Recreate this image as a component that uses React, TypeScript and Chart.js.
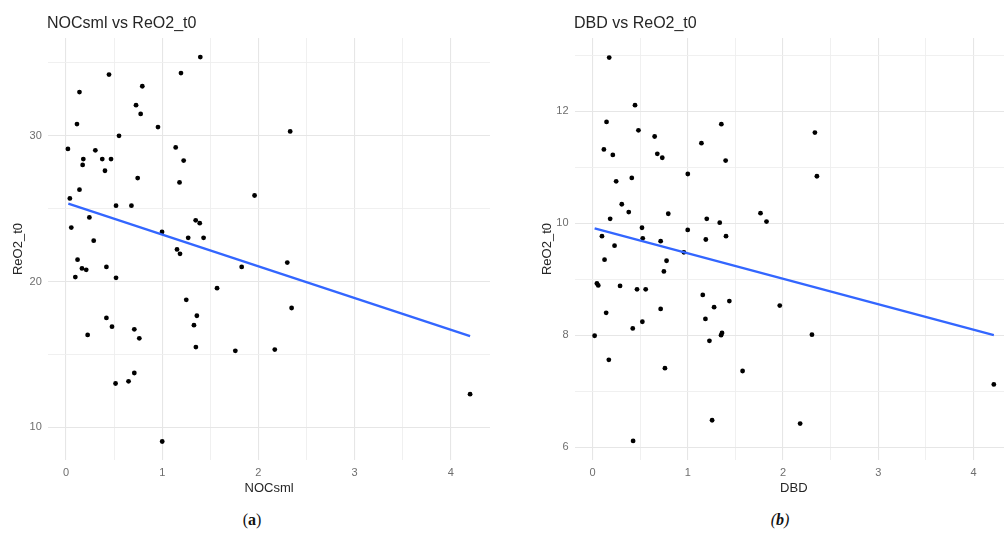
import React, { useEffect, useRef } from "react";
import { Chart, registerables } from "chart.js";

Chart.register(...registerables);

// ---------- data ----------
const nocX = [
  0.02, 0.114, 0.14, 0.447, 0.728, 0.776, 0.793, 0.956, 1.195, 1.396,
  0.551, 0.305, 0.18, 0.173, 0.377, 0.468, 0.405, 0.745, 1.14, 1.223,
  1.18, 0.04, 0.14, 0.52, 0.68, 0.243, 0.055, 0.288, 0.998, 1.348,
  1.39, 1.27, 1.43, 1.154, 1.185, 0.12, 0.42, 0.166, 0.21, 1.826,
  1.96, 0.097, 0.52, 1.57, 1.25, 1.36, 1.33, 1.35, 1.76, 0.42,
  0.478, 0.225, 0.71, 0.762, 0.515, 0.65, 0.71, 1.0, 2.33, 2.3,
  2.345, 2.17, 4.2,
];
const nocY = [
  29.1, 30.8, 33.0, 34.2, 32.1, 31.5, 33.4, 30.6, 34.3, 35.4,
  30.0, 29.0, 28.4, 28.0, 28.4, 28.4, 27.6, 27.1, 29.2, 28.3,
  26.8, 25.7, 26.3, 25.2, 25.2, 24.4, 23.7, 22.8, 23.4, 24.2,
  24.0, 23.0, 23.0, 22.2, 21.9, 21.5, 21.0, 20.9, 20.8, 21.0,
  25.9, 20.3, 20.25, 19.54, 18.74, 17.65, 17.0, 15.5, 15.24, 17.5,
  16.9, 16.33, 16.72, 16.1, 13.0, 13.15, 13.72, 9.02, 30.3, 21.3,
  18.18, 15.33, 12.27,
];
const nocFitX = [0.024, 4.2];
const nocFitY = [25.34, 16.25];

const dbdX = [
  0.176, 0.447, 0.148, 0.483, 0.653, 1.353, 1.144, 0.12, 0.214, 0.681,
  0.733, 1.398, 1.001, 0.413, 0.249, 0.308, 0.381, 0.796, 0.186, 1.2,
  1.336, 1.764, 1.827, 0.1, 0.52, 0.528, 1.0, 1.19, 1.402, 0.716,
  0.232, 0.96, 0.127, 0.778, 0.75, 0.047, 0.061, 0.29, 0.468, 0.559,
  1.158, 1.437, 1.277, 0.716, 0.144, 1.186, 0.524, 0.423, 0.023, 1.36,
  1.35, 1.228, 0.172, 0.761, 1.576, 1.256, 0.427, 2.335, 2.356, 1.966,
  2.304, 2.18, 4.213,
];
const dbdY = [
  12.96, 12.11, 11.81, 11.66, 11.55, 11.77, 11.43, 11.32, 11.22, 11.24,
  11.17, 11.12, 10.88, 10.81, 10.75, 10.34, 10.2, 10.17, 10.08, 10.08,
  10.01, 10.18, 10.03, 9.77, 9.92, 9.73, 9.88, 9.71, 9.77, 9.68,
  9.6, 9.48, 9.35, 9.33, 9.14, 8.925, 8.89, 8.88, 8.82, 8.82,
  8.72, 8.61, 8.5, 8.47, 8.4, 8.29, 8.24, 8.12, 7.99, 8.04,
  8.0, 7.9, 7.56, 7.41, 7.36, 6.48, 6.11, 11.62, 10.84, 8.53,
  8.01, 6.42, 7.12,
];
const dbdFitX = [0.023, 4.213];
const dbdFitY = [9.91, 8.0];

const xMajor = [0, 1, 2, 3, 4];
const xMinor = [0.5, 1.5, 2.5, 3.5];
const nocYMajor = [10, 20, 30];
const nocYMinor = [15, 25, 35];
const dbdYMajor = [6, 8, 10, 12];
const dbdYMinor = [7, 9, 11, 13];

const FONT = "'Liberation Sans', Arial, Helvetica, sans-serif";
const TICK_COLOR = "#6e6e6e";
const TEXT_COLOR = "#262626";

type PanelProps = {
  xs: number[];
  ys: number[];
  fitX: number[];
  fitY: number[];
  xMin: number;
  xMax: number;
  yMin: number;
  yMax: number;
  yMaj: number[];
  yMin2: number[];
  xTitle: string;
  yTitle: string;
  left: number;
  width: number;
  yAxisWidth: number;
  yTitlePad: number;
  padRight: number;
};

function Panel(p: PanelProps) {
  const ref = useRef<HTMLCanvasElement | null>(null);
  useEffect(() => {
    if (!ref.current) return;
    const pts = p.xs.map((x, i) => ({ x, y: p.ys[i] }));
    const fit = p.fitX.map((x, i) => ({ x, y: p.fitY[i] }));
    const xTicks = [...p.xs.length ? xMajor : [], ...xMinor].sort((a, b) => a - b);
    const yTicks = [...p.yMaj, ...p.yMin2].sort((a, b) => a - b);
    const isMajX = (v: number) => xMajor.indexOf(v) >= 0;
    const isMajY = (v: number) => p.yMaj.indexOf(v) >= 0;
    const chart = new Chart(ref.current, {
      type: "scatter",
      data: {
        datasets: [
          {
            type: "scatter",
            data: pts,
            backgroundColor: "#000000",
            borderColor: "#000000",
            borderWidth: 0,
            pointRadius: 2.4,
            pointHoverRadius: 2.4,
            order: 2,
          },
          {
            type: "line",
            data: fit,
            borderColor: "#3366FF",
            borderWidth: 2.3,
            pointRadius: 0,
            showLine: true,
            fill: false,
            order: 1,
          } as any,
        ],
      },
      options: {
        animation: false,
        responsive: false,
        devicePixelRatio: 1,
        events: [],
        layout: { padding: { top: 38, right: p.padRight, left: 0, bottom: 0 } },
        plugins: {
          legend: { display: false },
          title: { display: false },
          tooltip: { enabled: false },
        },
        scales: {
          x: {
            type: "linear",
            min: p.xMin,
            max: p.xMax,
            afterBuildTicks: (s: any) => {
              s.ticks = xTicks.map((v) => ({ value: v }));
            },
            afterFit: (s: any) => {
              s.height = 40;
            },
            border: { display: false },
            grid: {
              drawTicks: false,
              color: (c: any) => (isMajX(c.tick?.value) ? "#e6e6e6" : "#eeeeee"),
              lineWidth: (c: any) => (isMajX(c.tick?.value) ? 1.1 : 0.9),
            },
            ticks: {
              autoSkip: false,
              maxRotation: 0,
              padding: 6,
              color: TICK_COLOR,
              font: { family: FONT, size: 11 },
              callback: (v: any) => (isMajX(Number(v)) ? String(v) : ""),
            },
            title: {
              display: true,
              text: p.xTitle,
              color: TEXT_COLOR,
              font: { family: FONT, size: 13 },
              padding: { top: 0, bottom: 4 },
            },
          },
          y: {
            type: "linear",
            min: p.yMin,
            max: p.yMax,
            afterBuildTicks: (s: any) => {
              s.ticks = yTicks.map((v) => ({ value: v }));
            },
            afterFit: (s: any) => {
              s.width = p.yAxisWidth;
            },
            border: { display: false },
            grid: {
              drawTicks: false,
              color: (c: any) => (isMajY(c.tick?.value) ? "#e6e6e6" : "#eeeeee"),
              lineWidth: (c: any) => (isMajY(c.tick?.value) ? 1.1 : 0.9),
            },
            ticks: {
              autoSkip: false,
              padding: 6.5,
              color: TICK_COLOR,
              font: { family: FONT, size: 11 },
              callback: (v: any) => (isMajY(Number(v)) ? String(v) : ""),
            },
            title: {
              display: true,
              text: p.yTitle,
              color: TEXT_COLOR,
              font: { family: FONT, size: 13 },
              padding: { top: p.yTitlePad, bottom: 0 },
            },
          },
        },
      },
    } as any);
    return () => chart.destroy();
  }, []);
  return (
    <canvas
      ref={ref}
      width={p.width}
      height={500}
      style={{ position: "absolute", left: p.left, top: 0, width: p.width, height: 500 }}
    />
  );
}

const titleStyle: React.CSSProperties = {
  position: "absolute",
  top: 15,
  fontFamily: FONT,
  fontSize: 16,
  lineHeight: "16px",
  color: TEXT_COLOR,
  whiteSpace: "nowrap",
};

const capStyle: React.CSSProperties = {
  position: "absolute",
  top: 511,
  width: 40,
  textAlign: "center",
  fontFamily: "'Liberation Serif', 'Times New Roman', serif",
  fontSize: 16,
  lineHeight: "18px",
  color: "#111",
};

export default function App() {
  useEffect(() => {
    document.body.style.margin = "0";
  }, []);
  return (
    <div
      style={{
        position: "absolute",
        left: 0,
        top: 0,
        width: 1004,
        height: 538,
        overflow: "hidden",
        background: "#ffffff",
      }}
    >
      <Panel
        xs={nocX}
        ys={nocY}
        fitX={nocFitX}
        fitY={nocFitY}
        xMin={-0.184}
        xMax={4.407}
        yMin={7.75}
        yMax={36.71}
        yMaj={nocYMajor}
        yMin2={nocYMinor}
        xTitle="NOCsml"
        yTitle="ReO2_t0"
        left={0}
        width={500}
        yAxisWidth={48.3}
        yTitlePad={10.9}
        padRight={10}
      />
      <Panel
        xs={dbdX}
        ys={dbdY}
        fitX={dbdFitX}
        fitY={dbdFitY}
        xMin={-0.183}
        xMax={4.41}
        yMin={5.77}
        yMax={13.31}
        yMaj={dbdYMajor}
        yMin2={dbdYMinor}
        xTitle="DBD"
        yTitle="ReO2_t0"
        left={530}
        width={485}
        yAxisWidth={45}
        yTitlePad={9.7}
        padRight={0.4}
      />
      <div style={{ ...titleStyle, left: 47 }}>NOCsml vs ReO2_t0</div>
      <div style={{ ...titleStyle, left: 574 }}>DBD vs ReO2_t0</div>
      <div style={{ ...capStyle, left: 232 }}>
        (<b>a</b>)
      </div>
      <div style={{ ...capStyle, left: 760, fontStyle: "italic" }}>
        (<b>b</b>)
      </div>
    </div>
  );
}
